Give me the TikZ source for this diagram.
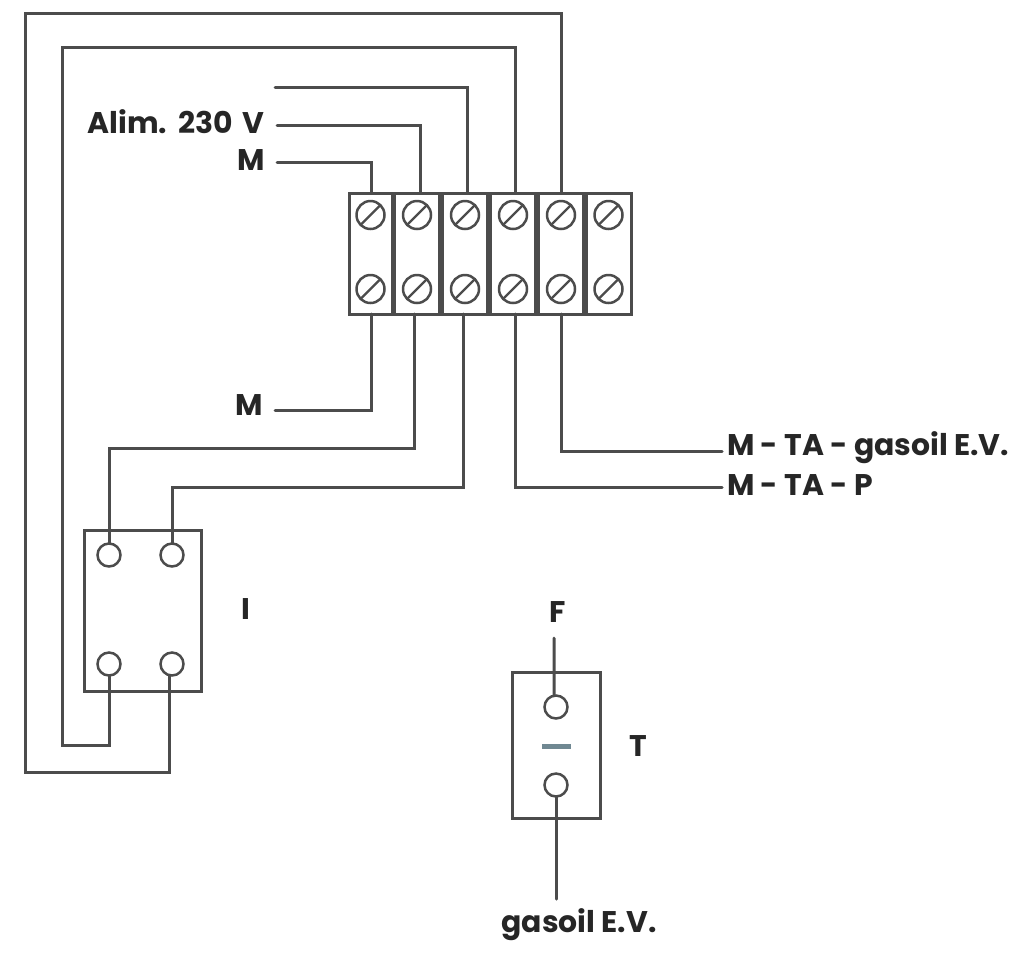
\documentclass[tikz,border=0pt]{standalone}
\usepackage{fontspec}
\setmainfont{Poppins}
\definecolor{wirecol}{gray}{0.3}
\definecolor{dashcol}{RGB}{112,136,146}
\tikzset{
  wire/.style={draw=wirecol,line width=0.06cm,line cap=round,line join=miter},
  cell/.style={draw=wirecol,line width=0.06cm,rectangle,minimum height=2.42cm,inner sep=0pt,outer sep=0pt},
  screw/.style={draw=wirecol,line width=0.05cm,circle,minimum size=0.56cm,inner sep=0pt,outer sep=0pt,fill=white,
    path picture={\draw[wirecol,line width=0.045cm] (path picture bounding box.south west) -- (path picture bounding box.north east);}},
  post/.style={draw=wirecol,line width=0.05cm,circle,minimum size=0.46cm,inner sep=0pt,outer sep=0pt,fill=white},
  case/.style={draw=wirecol,line width=0.06cm,rectangle,inner sep=0pt,outer sep=0pt},
  lab/.style={font=\bfseries\fontsize{17}{20}\selectfont,text=black!85,inner sep=0pt,outer sep=0pt}
}
\begin{document}
\begin{tikzpicture}[x=0.02cm,y=-0.02cm]
\useasboundingbox (0,0) rectangle (1016,968);

\foreach \i/\cx/\cw in {1/370.5/43,2/417/45,3/465/45,4/513/45,5/561/45,6/608.5/45}{
  \node[cell,minimum width=\cw*0.02cm] (c\i) at (\cx,253.5) {};
  \node[screw] (t\i) at (\cx,215) {};
  \node[screw] (b\i) at (\cx,289) {};
}

\node[case,minimum width=2.36cm,minimum height=3.22cm] (swI) at (143,610.5) {};
\node[post] (i1) at (109,555) {};
\node[post] (i2) at (172,555) {};
\node[post] (i3) at (109,664) {};
\node[post] (i4) at (172,664) {};

\node[case,minimum width=1.76cm,minimum height=2.92cm] (swT) at (556,745) {};
\node[post] (p1) at (556,707) {};
\node[post] (p2) at (556,785) {};
\node[rectangle,fill=dashcol,minimum width=0.58cm,minimum height=0.1cm,inner sep=0pt] (dash) at (556,746) {};

\node[lab,anchor=east] (lAlim) at (264,122) {Alim.\hspace{0.22cm}230\hspace{0.06cm} V};
\node[lab,anchor=east] (lMa) at (265,160) {M};
\node[lab,anchor=east] (lMb) at (263,405) {M};
\node[lab,anchor=west] (lGas) at (727,448) {M - TA - gasoil E.V.};
\node[lab,anchor=west] (lTaP) at (727,485) {M - TA - P};
\node[lab] (lI) at (246,609) {I};
\node[lab] (lF) at (558,612) {F};
\node[lab] (lT) at (638,746) {T};
\node[lab] (lEV) at (579,925) {gasoil E.V.};

\coordinate (eTop) at (275,87);
\coordinate (eAlim) at (277,125);
\coordinate (eMa) at (277,162);
\coordinate (eMb) at (275,410);
\coordinate (eGas) at (722,451);
\coordinate (eTaP) at (722,487);
\coordinate (eF) at (554,638);
\coordinate (eEV) at (556,899);

\draw[wire] (eMa) -| ([xshift=0.02cm]c1.north);
\draw[wire] (eAlim) -| ([xshift=0.06cm]c2.north);
\draw[wire] (eTop) -| ([xshift=0.04cm]c3.north);
\draw[wire] ([xshift=0.04cm]c4.north) |- (62,47) |- (109,745) -- (i3.south);
\draw[wire] (c5.north) |- (25,13) |- (169,772) -- (i4.south -| 169,0);

\draw[wire] ([xshift=0.02cm]c1.south) |- (eMb);
\draw[wire] ([xshift=-0.06cm]c2.south) |- (109,448) -- (i1.north);
\draw[wire] ([xshift=-0.04cm]c3.south) |- (172,487) -- (i2.north);
\draw[wire] ([xshift=0.04cm]c4.south) |- (eTaP);
\draw[wire] (c5.south) |- (eGas);

\draw[wire] (eF) -- ([xshift=-0.04cm]p1.north);
\draw[wire] (p2.south) -- (eEV);
\end{tikzpicture}
\end{document}
